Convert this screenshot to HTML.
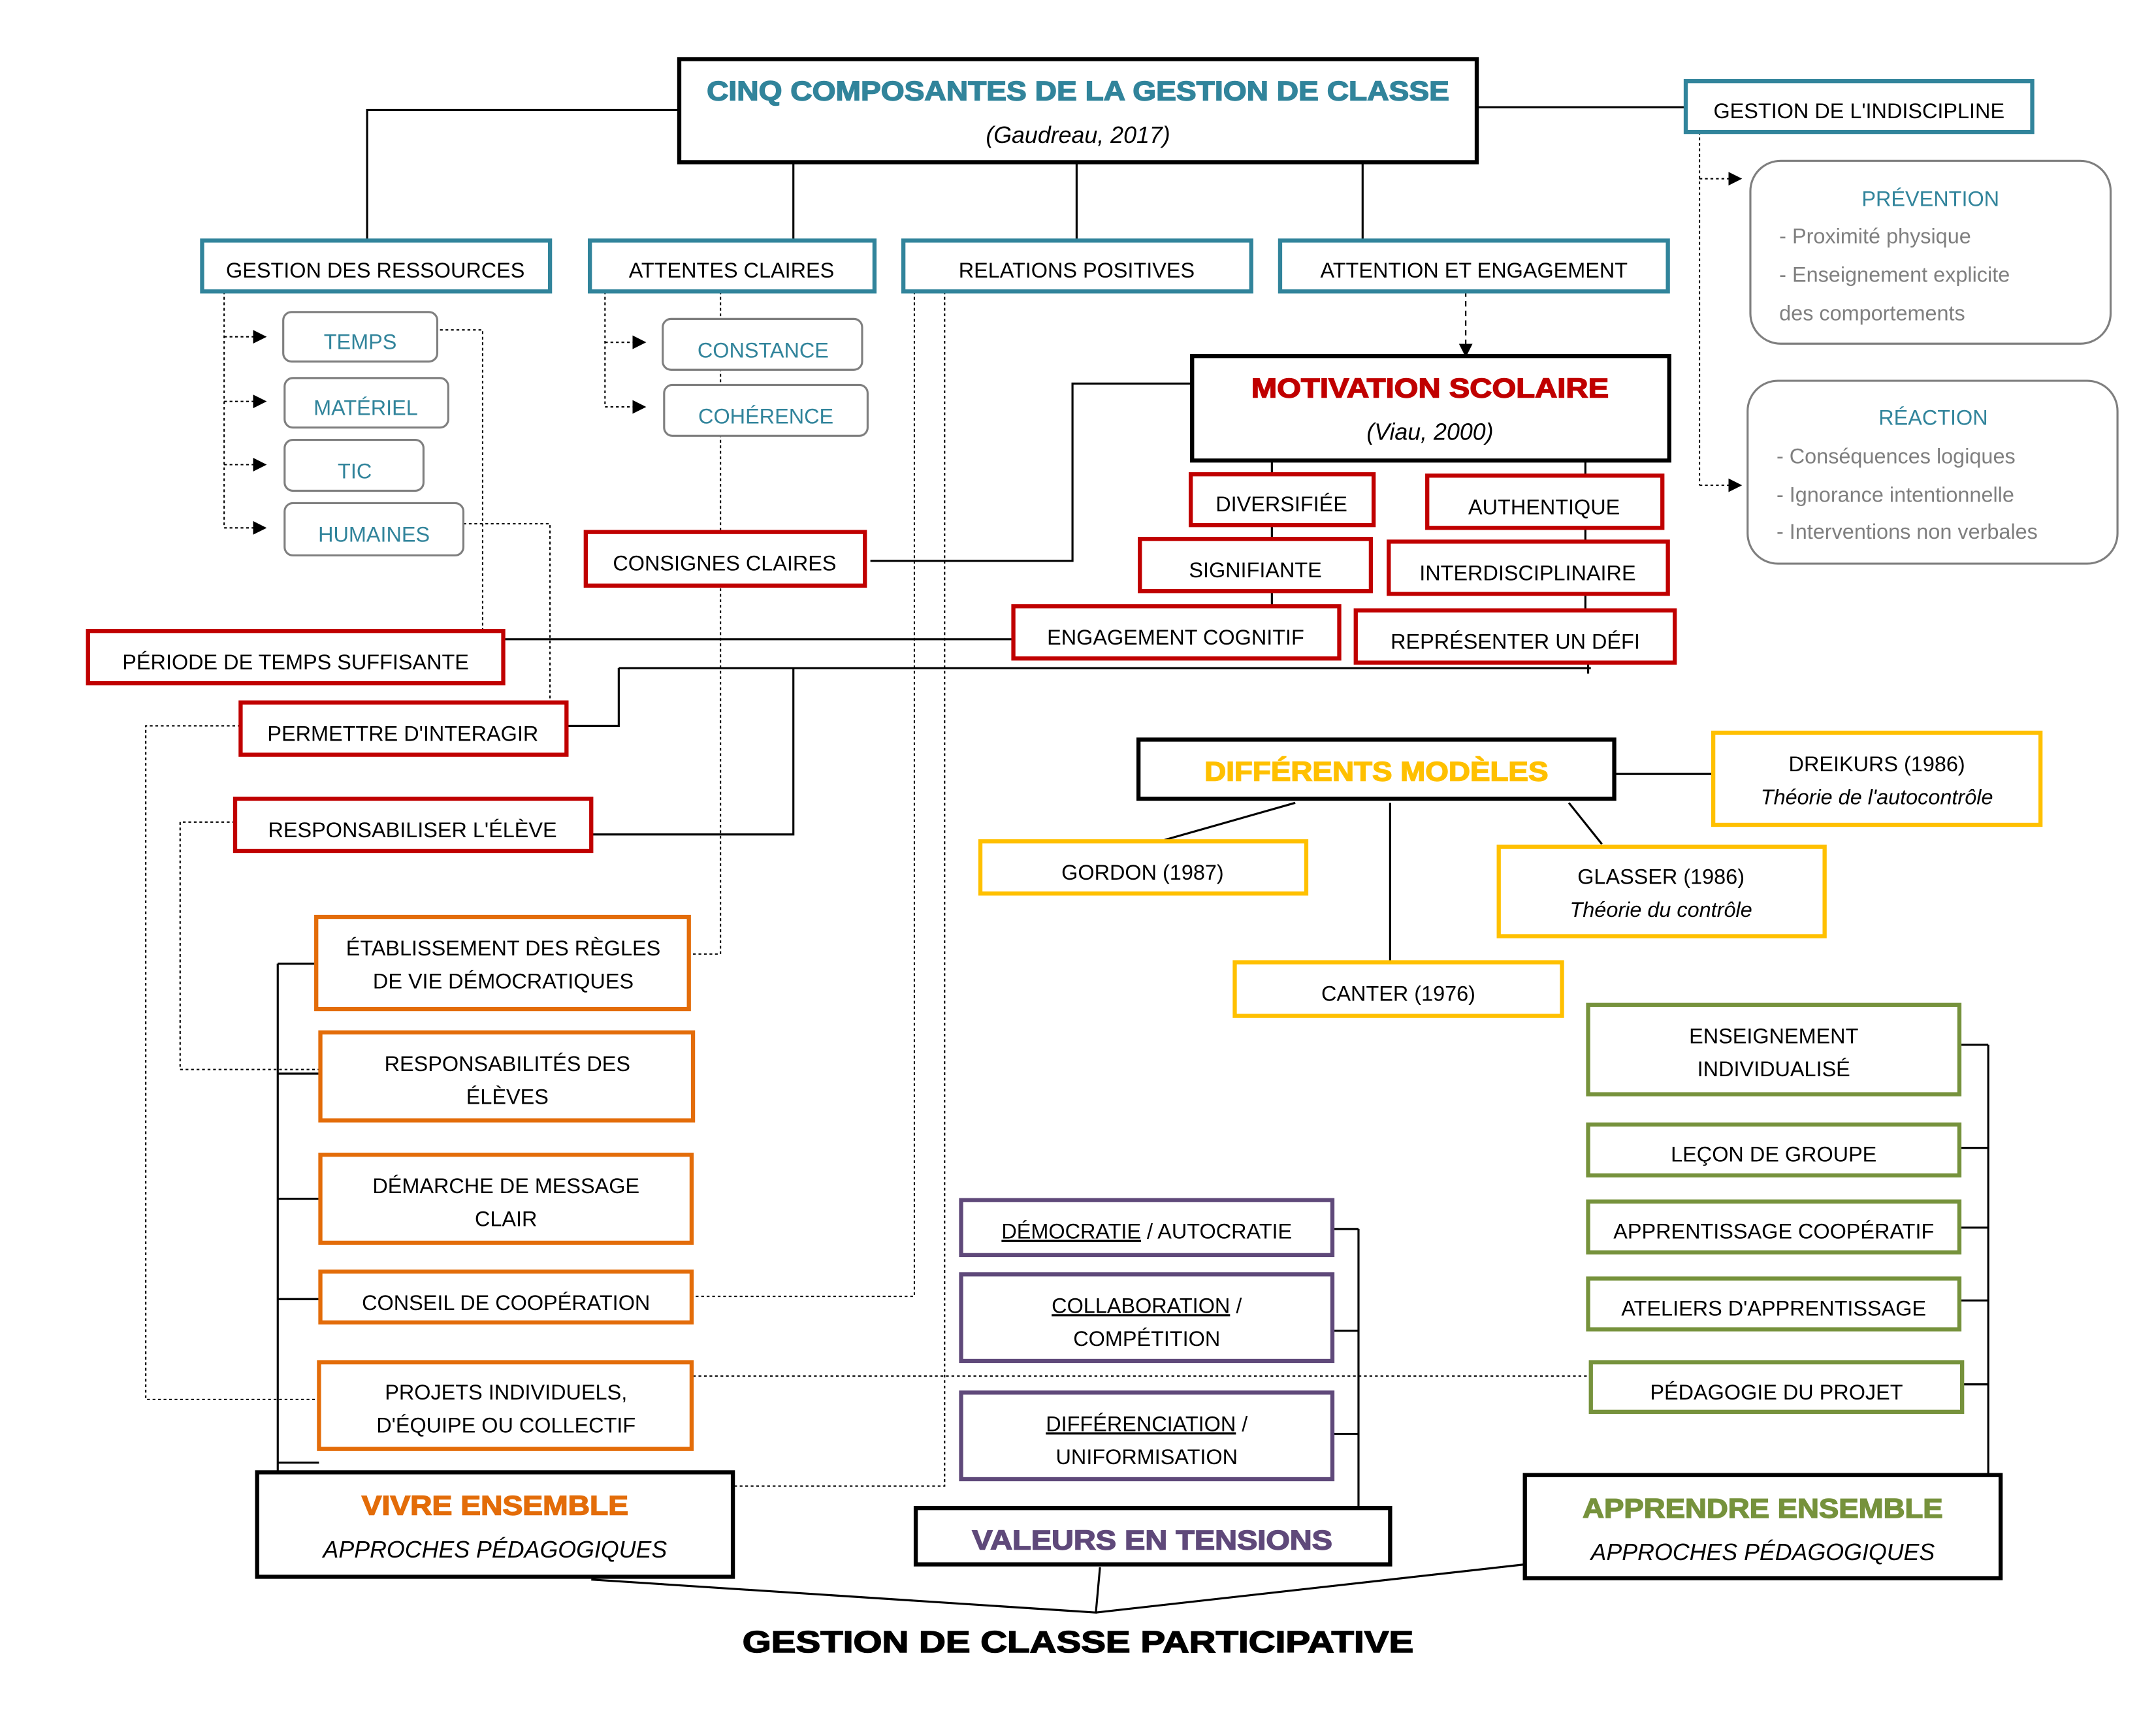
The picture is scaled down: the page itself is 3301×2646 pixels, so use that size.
<!DOCTYPE html>
<html><head><meta charset="utf-8"><style>
html,body{margin:0;padding:0;background:#fff}
svg{display:block}
text{font-family:"Liberation Sans",sans-serif;font-size:15.4px;fill:#000;text-anchor:middle}
.h{font-weight:bold;font-size:20px;stroke-width:0.7px}
.i{font-style:italic;font-size:17px}
.g{fill:#31849B}
.gr{fill:#7f7f7f;text-anchor:start}
</style></head><body>
<svg width="3301" height="2646" viewBox="0 0 1568 1257" preserveAspectRatio="none" xmlns="http://www.w3.org/2000/svg">
<defs><marker id="a" viewBox="0 0 10 10" refX="9" refY="5" markerWidth="10" markerHeight="10" orient="auto" markerUnits="userSpaceOnUse"><path d="M0,0L10,5L0,10z" fill="#000"/></marker></defs>
<g fill="none" stroke="#000" stroke-width="1.5">
<path d="M1074,78H1226M267,175V80H494M577,118V175M783,118V175M991,118V175"/>
<path d="M925,335V345M925,382V392M925,430V441M1153,335V346M1153,384V394M1153,432V444M1155,482V490"/>
<path d="M366,465H737M450,486H1157M450,486V528H412M577,486V607H430M633,408H780V279H867"/>
<path d="M202,701V1072M202,701H230M202,781H233M202,872H233M202,945H233M202,1064H232"/>
<path d="M1174,563H1246M942,584L847,611M1141,584L1165,614M1011,584V700"/>
<path d="M988,894V1097M969,894H988M969,968H988M969,1043H988"/>
<path d="M1446,760V1073M1425,760H1446M1425,835H1446M1425,893H1446M1425,946H1446M1427,1007H1446"/>
<path d="M430,1149L797,1173L800,1140M797,1173L1109,1138"/>
</g>
<g fill="none" stroke="#000" stroke-width="1" stroke-dasharray="2,2">
<path d="M163,212V384M440,212V296M1236,96V353"/>
<path d="M163,245H193" marker-end="url(#a)"/>
<path d="M163,292H193" marker-end="url(#a)"/>
<path d="M163,338H193" marker-end="url(#a)"/>
<path d="M163,384H193" marker-end="url(#a)"/>
<path d="M440,249H469" marker-end="url(#a)"/>
<path d="M440,296H469" marker-end="url(#a)"/>
<path d="M1236,130H1266" marker-end="url(#a)"/>
<path d="M1236,353H1266" marker-end="url(#a)"/>
<path d="M1066,212V259" marker-end="url(#a)" stroke-dasharray="4,3"/>
<path d="M320,240H351V459M337,381H400V511M524,212V694H500M665,212V943H504M687,212V1081H533M175,528H106V1018H233M171,598H131V778H233M504,1001H1157"/>
</g>
<g fill="#fff" stroke-width="3">
<rect x="494" y="43" width="580" height="75" stroke="#000"/>
<rect x="1226" y="59" width="252" height="37" stroke="#31849B"/>
<g stroke="#31849B"><rect x="147" y="175" width="253" height="37"/><rect x="429" y="175" width="207" height="37"/><rect x="657" y="175" width="253" height="37"/><rect x="931" y="175" width="282" height="37"/></g>
<g stroke="#7f7f7f" stroke-width="1.5"><rect x="206" y="227" width="112" height="36" rx="6"/><rect x="207" y="275" width="119" height="36" rx="6"/><rect x="207" y="320" width="101" height="37" rx="6"/><rect x="207" y="366" width="130" height="38" rx="6"/><rect x="482" y="232" width="145" height="37" rx="6"/><rect x="483" y="280" width="148" height="37" rx="6"/><rect x="1273" y="117" width="262" height="133" rx="22"/><rect x="1271" y="277" width="269" height="133" rx="22"/></g>
<rect x="867" y="259" width="347" height="76" stroke="#000"/>
<g stroke="#C00000"><rect x="866" y="345" width="133" height="37"/><rect x="1038" y="346" width="171" height="38"/><rect x="829" y="392" width="168" height="38"/><rect x="1010" y="394" width="203" height="38"/><rect x="737" y="441" width="237" height="38"/><rect x="986" y="444" width="232" height="38"/><rect x="426" y="387" width="203" height="39"/><rect x="64" y="459" width="302" height="38"/><rect x="175" y="511" width="237" height="38"/><rect x="171" y="581" width="259" height="38"/></g>
<g stroke="#E36C09"><rect x="230" y="667" width="271" height="67"/><rect x="233" y="751" width="271" height="64"/><rect x="233" y="840" width="270" height="64"/><rect x="233" y="925" width="270" height="37"/><rect x="232" y="991" width="271" height="63"/></g>
<rect x="187" y="1071" width="346" height="76" stroke="#000"/>
<rect x="828" y="538" width="346" height="43" stroke="#000"/>
<g stroke="#FFC000"><rect x="1246" y="533" width="238" height="67"/><rect x="713" y="612" width="237" height="38"/><rect x="1090" y="616" width="237" height="65"/><rect x="898" y="700" width="238" height="39"/></g>
<g stroke="#5F497A"><rect x="699" y="873" width="270" height="40"/><rect x="699" y="927" width="270" height="63"/><rect x="699" y="1013" width="270" height="63"/></g>
<rect x="666" y="1097" width="345" height="41" stroke="#000"/>
<g stroke="#76923C"><rect x="1155" y="731" width="270" height="65"/><rect x="1155" y="818" width="270" height="37"/><rect x="1155" y="874" width="270" height="37"/><rect x="1155" y="930" width="270" height="37"/><rect x="1157" y="991" width="270" height="36"/></g>
<rect x="1109" y="1073" width="346" height="75" stroke="#000"/>
</g>
<text x="784" y="73" class="h g" stroke="#31849B" textLength="540" lengthAdjust="spacingAndGlyphs">CINQ COMPOSANTES DE LA GESTION DE CLASSE</text>
<text x="784" y="104" class="i">(Gaudreau, 2017)</text>
<text x="1352" y="86">GESTION DE L'INDISCIPLINE</text>
<text x="273" y="202">GESTION DES RESSOURCES</text>
<text x="532" y="202">ATTENTES CLAIRES</text>
<text x="783" y="202">RELATIONS POSITIVES</text>
<text x="1072" y="202">ATTENTION ET ENGAGEMENT</text>
<text x="262" y="254" class="g">TEMPS</text><text x="266" y="302" class="g">MATÉRIEL</text><text x="258" y="348" class="g">TIC</text><text x="272" y="394" class="g">HUMAINES</text><text x="555" y="260" class="g">CONSTANCE</text><text x="557" y="308" class="g">COHÉRENCE</text><text x="1404" y="150" class="g">PRÉVENTION</text><text x="1406" y="309" class="g">RÉACTION</text>
<text x="1294" y="177" class="gr">- Proximité physique</text>
<text x="1294" y="205" class="gr">- Enseignement explicite</text>
<text x="1294" y="233" class="gr">des comportements</text>
<text x="1292" y="337" class="gr">- Conséquences logiques</text>
<text x="1292" y="365" class="gr">- Ignorance intentionnelle</text>
<text x="1292" y="392" class="gr">- Interventions non verbales</text>
<text x="1040" y="289" class="h" style="fill:#C00000" stroke="#C00000" textLength="260" lengthAdjust="spacingAndGlyphs">MOTIVATION SCOLAIRE</text>
<text x="1040" y="320" class="i">(Viau, 2000)</text>
<text x="932" y="372">DIVERSIFIÉE</text>
<text x="1123" y="374">AUTHENTIQUE</text>
<text x="913" y="420">SIGNIFIANTE</text>
<text x="1111" y="422">INTERDISCIPLINAIRE</text>
<text x="855" y="469">ENGAGEMENT COGNITIF</text>
<text x="1102" y="472">REPRÉSENTER UN DÉFI</text>
<text x="527" y="415">CONSIGNES CLAIRES</text>
<text x="215" y="487">PÉRIODE DE TEMPS SUFFISANTE</text>
<text x="293" y="539">PERMETTRE D'INTERAGIR</text>
<text x="300" y="609">RESPONSABILISER L'ÉLÈVE</text>
<text x="1001" y="568" class="h" style="fill:#FFC000" stroke="#FFC000" textLength="250" lengthAdjust="spacingAndGlyphs">DIFFÉRENTS MODÈLES</text>
<text x="1365" y="561">DREIKURS (1986)</text>
<text x="1365" y="585" style="font-style:italic">Théorie de l'autocontrôle</text>
<text x="831" y="640">GORDON (1987)</text>
<text x="1208" y="643">GLASSER (1986)</text>
<text x="1208" y="667" style="font-style:italic">Théorie du contrôle</text>
<text x="1017" y="728">CANTER (1976)</text>
<text x="366" y="695">ÉTABLISSEMENT DES RÈGLES</text>
<text x="366" y="719">DE VIE DÉMOCRATIQUES</text>
<text x="369" y="779">RESPONSABILITÉS DES</text>
<text x="369" y="803">ÉLÈVES</text>
<text x="368" y="868">DÉMARCHE DE MESSAGE</text>
<text x="368" y="892">CLAIR</text>
<text x="368" y="953">CONSEIL DE COOPÉRATION</text>
<text x="368" y="1018">PROJETS INDIVIDUELS,</text>
<text x="368" y="1042">D'ÉQUIPE OU COLLECTIF</text>
<text x="360" y="1102" class="h" style="fill:#E36C09" stroke="#E36C09" textLength="194" lengthAdjust="spacingAndGlyphs">VIVRE ENSEMBLE</text>
<text x="360" y="1133" class="i">APPROCHES PÉDAGOGIQUES</text>
<text x="834" y="901"><tspan text-decoration="underline">DÉMOCRATIE</tspan> / AUTOCRATIE</text>
<text x="834" y="955"><tspan text-decoration="underline">COLLABORATION</tspan> /</text>
<text x="834" y="979">COMPÉTITION</text>
<text x="834" y="1041"><tspan text-decoration="underline">DIFFÉRENCIATION</tspan> /</text>
<text x="834" y="1065">UNIFORMISATION</text>
<text x="838" y="1127" class="h" style="fill:#5F497A" stroke="#5F497A" textLength="262" lengthAdjust="spacingAndGlyphs">VALEURS EN TENSIONS</text>
<text x="1290" y="759">ENSEIGNEMENT</text>
<text x="1290" y="783">INDIVIDUALISÉ</text>
<text x="1290" y="845">LEÇON DE GROUPE</text>
<text x="1290" y="901">APPRENTISSAGE COOPÉRATIF</text>
<text x="1290" y="957">ATELIERS D'APPRENTISSAGE</text>
<text x="1292" y="1018">PÉDAGOGIE DU PROJET</text>
<text x="1282" y="1104" class="h" style="fill:#76923C" stroke="#76923C" textLength="262" lengthAdjust="spacingAndGlyphs">APPRENDRE ENSEMBLE</text>
<text x="1282" y="1135" class="i">APPROCHES PÉDAGOGIQUES</text>
<text x="784" y="1202" class="h" style="font-size:22px" stroke="#000" textLength="488" lengthAdjust="spacingAndGlyphs">GESTION DE CLASSE PARTICIPATIVE</text>
</svg>
</body></html>
